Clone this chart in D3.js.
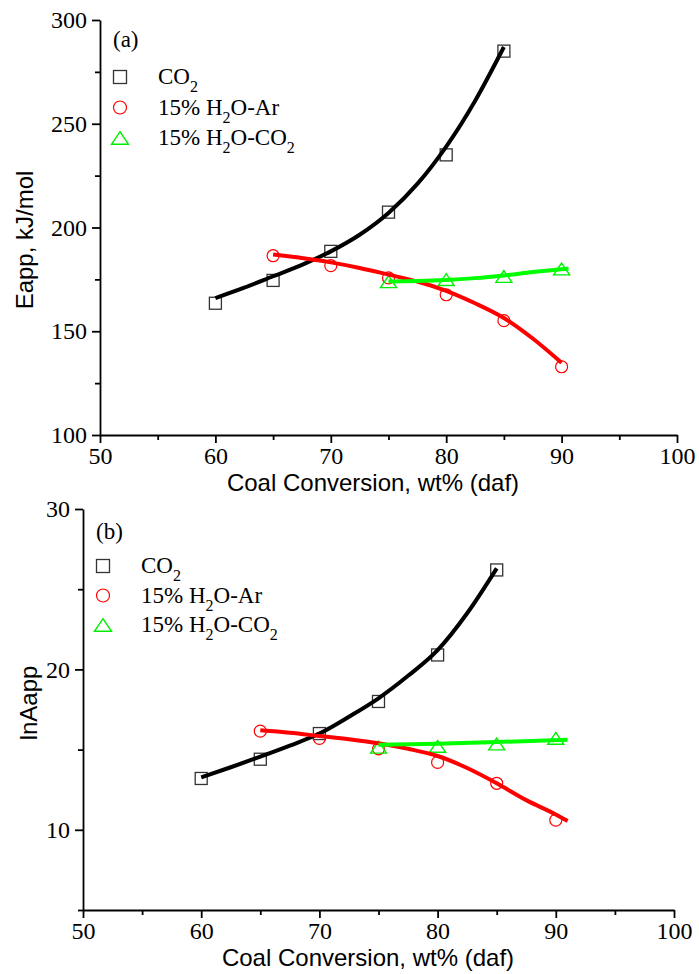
<!DOCTYPE html>
<html>
<head>
<meta charset="utf-8">
<script src="https://cdn.jsdelivr.net/npm/d3@7/dist/d3.min.js"></script>
<style>
    body { margin: 0; background: #fff; }
    svg { display: block; }
</style>
</head>
<body>
<div id="chart"></div>
<script>
// measured points (x = coal conversion, wt% daf)
const convCO2 = [60, 65, 70, 75, 80, 85];
const convH2OAr = [65, 70, 75, 80, 85, 90];
const convH2OCO2 = [75, 80, 85, 90];

const eappCO2 = [163.5, 174.5, 188.5, 207.4, 235, 285];
const eappH2OAr = [186.4, 181.6, 175.7, 167.6, 155.1, 132.9];
const eappH2OCO2 = [173.9, 174.9, 176.4, 180];

const lnACO2 = [13.2, 14.4, 16.0, 18.0, 20.9, 26.2];
const lnAH2OAr = [16.15, 15.7, 15.05, 14.2, 12.9, 10.6];
const lnAH2OCO2 = [15.15, 15.2, 15.35, 15.7];

// fitted curves
const fitConvCO2 = [60, 62.5, 65, 67.5, 70, 72.5, 75, 77.5, 80, 82.5, 85];
const fitEappCO2 = [166, 171, 176.5, 182, 188.5, 196.5, 207, 221, 239, 261, 287];
const fitConvH2OAr = [65, 67.5, 70, 72.5, 75, 77.5, 80, 82.5, 85, 87.5, 90];
const fitEappH2OAr = [187, 185.3, 183.2, 180.5, 177.3, 174, 169.5, 163.5, 156.4, 146.5, 134.8];
const fitConvH2OCO2 = [75, 77.5, 80, 82.5, 85, 87.5, 90.6];
const fitEappH2OCO2 = [174, 174.2, 174.7, 175.6, 176.9, 178.5, 180.2];

const fitLnAConvCO2 = [60, 62.5, 65, 67.5, 70, 72.5, 75, 77.5, 80, 82.5, 85];
const fitLnACO2 = [13.27, 13.9, 14.56, 15.25, 16.0, 17.05, 18.2, 19.6, 21.2, 23.5, 26.3];
const fitLnAConvH2OAr = [65, 67.5, 70, 72.5, 75, 77.5, 80, 82.5, 85, 87.5, 90, 91];
const fitLnAH2OAr = [16.2, 16.05, 15.85, 15.65, 15.4, 15.05, 14.6, 13.85, 12.9, 11.85, 10.95, 10.55];
const fitLnAConvH2OCO2 = [75, 80, 85, 91];
const fitLnAH2OCO2 = [15.3, 15.37, 15.47, 15.62];

// ticks
const xMajor = [50, 60, 70, 80, 90, 100];
const xMinor = [55, 65, 75, 85, 95];
const eappMajor = [100, 150, 200, 250, 300];
const eappMinor = [125, 175, 225, 275];
const lnAMajor = [10, 20, 30];
const lnAMinor = [5, 15, 25];

const legendLabels = ["CO_2", "15% H_2O-Ar", "15% H_2O-CO_2"];
const seriesShapes = ["square", "circle", "triangle"];
const seriesColors = ["#333333", "#ff0000", "#00ee00"];
const lineColors = ["#000000", "#ff0000", "#00ff00"];

const serif = '"Liberation Serif", "Times New Roman", serif';
const sans = '"Liberation Sans", Arial, sans-serif';

let svg = d3.select("#chart").append("svg")
    .attr("width", 699)
    .attr("height", 974);

function richText(sel, str) {
    // "_2" -> subscript 2
    let parts = str.split("_");
    sel.append("tspan").text(parts[0]);
    for (let i = 1; i < parts.length; ++i) {
        sel.append("tspan").attr("font-size", "16px").attr("dy", 8).text(parts[i][0]);
        if (parts[i].length > 1)
            sel.append("tspan").attr("dy", -8).text(parts[i].slice(1));
    }
}

function marker(g, shape, x, y, color, s) {
    if (shape === "square") {
        g.append("rect")
            .attr("x", x - s / 2).attr("y", y - s / 2)
            .attr("width", s).attr("height", s)
            .attr("fill", "none").attr("stroke", color).attr("stroke-width", 1.3);
    } else if (shape === "circle") {
        g.append("circle")
            .attr("cx", x).attr("cy", y).attr("r", s / 2)
            .attr("fill", "none").attr("stroke", color).attr("stroke-width", 1.2);
    } else {
        // s = base width
        let w = s / 2, h = s * 0.37;
        g.append("path")
            .attr("d", "M" + x + "," + (y - h) + "L" + (x + w) + "," + (y + h) + "L" + (x - w) + "," + (y + h) + "Z")
            .attr("fill", "none").attr("stroke", color).attr("stroke-width", 1.4);
    }
}

function styleAxis(ax) {
    ax.attr("font-family", serif).attr("font-size", 24);
    ax.selectAll("path, line").attr("stroke", "#000").attr("stroke-width", 1.8);
    ax.selectAll("text")
        .attr("font-family", serif)
        .attr("font-size", 24)
        .style("font-family", serif)
        .style("font-size", "24px")
        .attr("fill", "#000");
}

function drawPanel(p) {
    let g = svg.append("g");
    let x = d3.scaleLinear().domain([50, 100]).range([p.left, p.right]);
    let y = d3.scaleLinear().domain(p.yDomain).range([p.bottom, p.top]);

    // minor ticks first
    let xm = g.append("g")
        .attr("transform", "translate(0," + p.bottom + ")")
        .call(d3.axisBottom(x).tickValues(xMinor).tickSize(5).tickFormat(""));
    xm.select(".domain").remove();
    styleAxis(xm);
    let ym = g.append("g")
        .attr("transform", "translate(" + p.left + ",0)")
        .call(d3.axisLeft(y).tickValues(p.yMinor).tickSize(5).tickFormat(""));
    ym.select(".domain").remove();
    styleAxis(ym);

    let xa = g.append("g")
        .attr("transform", "translate(0," + p.bottom + ")")
        .call(d3.axisBottom(x).tickValues(xMajor).tickSize(8).tickSizeOuter(0).tickPadding(4));
    styleAxis(xa);
    let ya = g.append("g")
        .attr("transform", "translate(" + p.left + ",0)")
        .call(d3.axisLeft(y).tickValues(p.yMajor).tickSize(8).tickSizeOuter(0).tickPadding(5));
    styleAxis(ya);

    // axis titles
    g.append("text")
        .attr("x", p.xTitleX).attr("y", p.bottom + 56)
        .attr("text-anchor", "middle")
        .style("font-family", sans).style("font-size", "24px")
        .text("Coal Conversion, wt% (daf)");
    g.append("text")
        .attr("transform", "translate(" + p.yTitleX + "," + p.yTitleY + ") rotate(-90)")
        .attr("text-anchor", "middle")
        .style("font-family", sans).style("font-size", "24px")
        .text(p.yTitle);

    // markers
    p.series.forEach(function (s, i) {
        let mg = g.append("g");
        s.xs.forEach(function (v, j) {
            marker(mg, seriesShapes[i], x(v), y(s.ys[j]), seriesColors[i], seriesShapes[i] === "triangle" ? 16 : 12);
        });
    });

    // fit lines on top
    let line = d3.line()
        .x(function (d) { return x(d[0]); })
        .y(function (d) { return y(d[1]); })
        .curve(d3.curveMonotoneX);
    p.fits.forEach(function (f, i) {
        g.append("path")
            .datum(f.xs.map(function (v, j) { return [v, f.ys[j]]; }))
            .attr("d", line)
            .attr("fill", "none")
            .attr("stroke", lineColors[i])
            .attr("stroke-width", 4);
    });

    // tag + legend
    g.append("text")
        .attr("x", p.left + 13).attr("y", p.top + p.tagDy)
        .style("font-family", serif).style("font-size", "23px")
        .text(p.tag);
    legendLabels.forEach(function (lab, i) {
        let cy = p.top + p.legDy + i * p.legStep;
        marker(g, seriesShapes[i], p.left + 20, cy, seriesColors[i], seriesShapes[i] === "triangle" ? 17 : 13);
        let t = g.append("text")
            .attr("x", p.left + 58).attr("y", cy + 7)
            .style("font-family", serif).style("font-size", "23px");
        richText(t, lab);
    });
}

drawPanel({
    left: 100, right: 677, top: 20, bottom: 435,
    yDomain: [100, 300], yMajor: eappMajor, yMinor: eappMinor,
    yTitle: "Eapp, kJ/mol", yTitleX: 33, yTitleY: 240, xTitleX: 373,
    tag: "(a)", tagDy: 27, legDy: 57, legStep: 30.5,
    series: [
        {xs: convCO2, ys: eappCO2},
        {xs: convH2OAr, ys: eappH2OAr},
        {xs: convH2OCO2, ys: eappH2OCO2}
    ],
    fits: [
        {xs: fitConvCO2, ys: fitEappCO2},
        {xs: fitConvH2OAr, ys: fitEappH2OAr},
        {xs: fitConvH2OCO2, ys: fitEappH2OCO2}
    ]
});

drawPanel({
    left: 83, right: 674, top: 509, bottom: 910,
    yDomain: [5, 30], yMajor: lnAMajor, yMinor: lnAMinor,
    yTitle: "lnAapp", yTitleX: 37, yTitleY: 703, xTitleX: 368,
    tag: "(b)", tagDy: 30, legDy: 57, legStep: 29.5,
    series: [
        {xs: convCO2, ys: lnACO2},
        {xs: convH2OAr, ys: lnAH2OAr},
        {xs: convH2OCO2, ys: lnAH2OCO2}
    ],
    fits: [
        {xs: fitLnAConvCO2, ys: fitLnACO2},
        {xs: fitLnAConvH2OAr, ys: fitLnAH2OAr},
        {xs: fitLnAConvH2OCO2, ys: fitLnAH2OCO2}
    ]
});
</script>
</body>
</html>
